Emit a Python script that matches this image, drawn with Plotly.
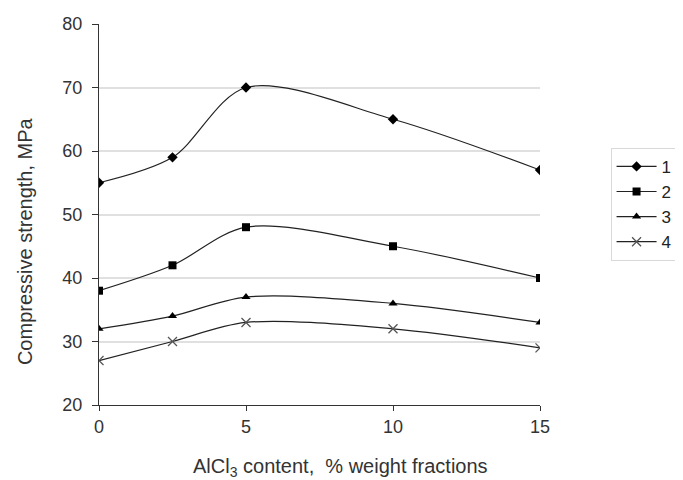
import plotly.graph_objects as go

x_vals = [0, 2.5, 5, 10, 15]
series_names = ["1", "2", "3", "4"]
s1 = [55, 59, 70, 65, 57]
s2 = [38, 42, 48, 45, 40]
s3 = [32, 34, 37, 36, 33]
s4 = [27, 30, 33, 32, 29]
y_ticks = [20, 30, 40, 50, 60, 70, 80]
x_ticks = [0, 5, 10, 15]
x_title = "AlCl<sub>3</sub> content,  % weight fractions"
y_title = "Compressive strength, MPa"

markers = [
    dict(symbol="diamond", size=8, color="black"),
    dict(symbol="square", size=8, color="black"),
    dict(symbol="triangle-up", size=8, color="black"),
    dict(symbol="x-thin-open", size=9, color="#555", line=dict(width=1.3, color="#555")),
]

fig = go.Figure()
for name, ys, mk in zip(series_names, [s1, s2, s3, s4], markers):
    fig.add_trace(go.Scatter(
        x=x_vals, y=ys, name=name, mode="lines+markers",
        line=dict(color="#222", width=1.2, shape="spline", smoothing=0.9),
        marker=mk,
    ))

font_family = "Liberation Sans, Arial, sans-serif"
fig.update_layout(
    width=683, height=480,
    margin=dict(l=91, r=151, t=16, b=83, autoexpand=False),
    paper_bgcolor="white", plot_bgcolor="white",
    font=dict(family=font_family, size=18, color="#333"),
    showlegend=True,
    legend=dict(
        x=1.16, y=0.675, xanchor="left", yanchor="top",
        bordercolor="#d9d9d9", borderwidth=1,
        font=dict(size=17, color="#222"),
        itemwidth=40, tracegroupgap=0,
    ),
    annotations=[
        dict(text=x_title, xref="paper", yref="paper", x=0.548, y=-0.163,
             xanchor="center", yanchor="middle", showarrow=False,
             font=dict(size=20, color="#333")),
        dict(text=y_title, xref="paper", yref="paper", x=-0.168, y=0.43,
             xanchor="center", yanchor="middle", showarrow=False, textangle=-90,
             font=dict(size=20, color="#333")),
    ],
)
fig.update_xaxes(
    range=[0, 15], tickvals=x_ticks, showgrid=False, zeroline=False,
    showline=True, linecolor="#333", linewidth=1, automargin=False,
    ticks="outside", ticklen=5, tickcolor="#333",
)
fig.update_yaxes(
    range=[20, 80], tickvals=y_ticks, showgrid=True, gridcolor="#e0e0e0", gridwidth=1.5,
    zeroline=False, showline=True, linecolor="#333", linewidth=1, automargin=False,
    ticks="outside", ticklen=6, tickcolor="#333", ticklabelstandoff=6,
)
fig.write_html("out.html")
